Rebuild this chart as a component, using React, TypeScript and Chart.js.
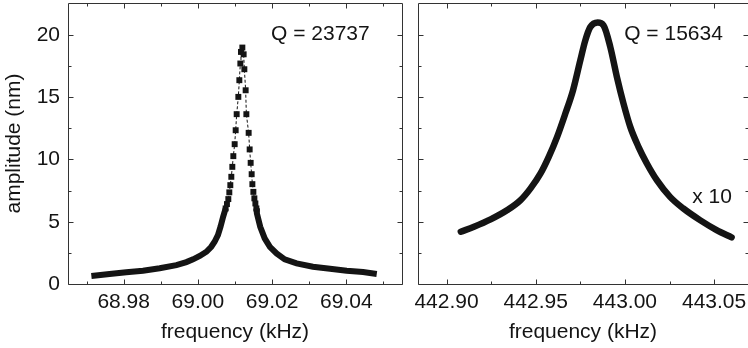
import React, { useEffect, useRef } from 'react';
import { Chart, registerables } from 'chart.js';

Chart.register(...registerables);

// ---- data ----
const leftFreq = [
  68.9713, 68.9762, 68.9807, 68.9852, 68.9897, 68.9942, 68.9969, 68.9987, 69.0005, 69.0023,
  69.0036, 69.0045, 69.0054, 69.0061, 69.0068,
  69.00748, 69.00783, 69.0082, 69.00847, 69.00874, 69.00901, 69.00928, 69.00955, 69.00991, 69.01018,
  69.01045, 69.0109, 69.01117, 69.01144, 69.01161, 69.01198,
  69.01233, 69.01252, 69.01287, 69.01306, 69.01368, 69.01395, 69.01422, 69.01449, 69.01468, 69.01495,
  69.01522, 69.01549, 69.01576,
  69.0159, 69.0168, 69.018, 69.0194, 69.0212, 69.0234, 69.0266, 69.031, 69.0356, 69.0401, 69.0445, 69.0482,
];
const leftAmp = [
  0.64, 0.8, 0.94, 1.07, 1.26, 1.52, 1.76, 1.98, 2.25, 2.59,
  2.99, 3.39, 3.93, 4.6, 5.4,
  6.07, 6.42, 6.82, 7.36, 7.94, 8.61, 9.41, 10.27, 11.23, 12.35,
  13.64, 15.03, 16.37, 17.71, 18.64, 18.99,
  18.45, 17.25, 15.56, 13.64, 12.14, 10.81, 9.73, 8.82, 8.02, 7.4,
  6.88, 6.47, 6.07,
  5.67, 4.6, 3.67, 2.99, 2.46, 1.98, 1.66, 1.39, 1.23, 1.07, 0.96, 0.8,
];

const rightFreq = [
  442.908, 442.9154, 442.9247, 442.9341, 442.9415, 442.9471, 442.9527, 442.9573, 442.962, 442.9666,
  442.9709, 442.975, 442.9778, 442.9806, 442.9847, 442.988, 442.9918, 442.9955, 442.9992, 443.003,
  443.0076, 443.0123, 443.0179, 443.0253, 443.0327, 443.0421, 443.0514, 443.0598,
];
const rightAmp = [
  4.2, 4.6, 5.19, 5.94, 6.74, 7.68, 8.88, 10.21, 11.82, 13.69,
  15.56, 17.97, 19.57, 20.64, 21.0, 20.78, 19.04, 16.63, 14.5, 12.62,
  11.02, 9.68, 8.34, 7.0, 6.07, 5.13, 4.33, 3.75,
];

const leftXRange = [68.965, 69.055];
const rightXRange = [442.884, 443.069];
const yRange = [0, 22.57];

const leftXMajor = [68.98, 69.0, 69.02, 69.04];
const leftXMinor = [68.97, 68.99, 69.01, 69.03, 69.05];
const rightXMajor = [442.9, 442.95, 443.0, 443.05];
const rightXMinor = [442.925, 442.975, 443.025];
const yMajor = [0, 5, 10, 15, 20];
const yMinor = [2.5, 7.5, 12.5, 17.5];

const leftNotes = [{ x: 69.0463, y: 20.1, text: 'Q = 23737' }];
const rightNotes = [
  { x: 443.0549, y: 20.1, text: 'Q = 15634' },
  { x: 443.06, y: 6.98, text: 'x 10' },
];

const INK = '#141414';
const FRAME = '#333333';
const FONT = "'Liberation Sans', Arial, Helvetica, sans-serif";
const MARK_LIMIT = 6;
const FONT_SIZE = 21;

function framePlugin(xMaj: number[], xMin: number[]) {
  return {
    id: 'frameTicks',
    afterDraw(chart: any) {
      const { ctx, chartArea } = chart;
      const { left, right, top, bottom } = chartArea;
      const xs = chart.scales.x;
      const ys = chart.scales.y;
      ctx.save();
      ctx.strokeStyle = FRAME;
      ctx.lineWidth = 1;
      const L = Math.round(left) + 0.5;
      const R = Math.round(right) + 0.5;
      const T = Math.round(top) + 0.5;
      const B = Math.round(bottom) + 0.5;
      ctx.beginPath();
      ctx.moveTo(L, T); ctx.lineTo(R, T); ctx.lineTo(R, B); ctx.lineTo(L, B); ctx.closePath();
      ctx.stroke();
      ctx.beginPath();
      const xt = (v: number, len: number) => {
        const p = Math.round(xs.getPixelForValue(v)) + 0.5;
        ctx.moveTo(p, B); ctx.lineTo(p, B - len);
        ctx.moveTo(p, T); ctx.lineTo(p, T + len);
      };
      const yt = (v: number, len: number) => {
        const p = Math.round(ys.getPixelForValue(v)) + 0.5;
        ctx.moveTo(L, p); ctx.lineTo(L + len, p);
        ctx.moveTo(R, p); ctx.lineTo(R - len, p);
      };
      xMaj.forEach((v) => xt(v, 5));
      xMin.forEach((v) => xt(v, 3));
      yMajor.forEach((v) => yt(v, 5));
      yMinor.forEach((v) => yt(v, 3));
      ctx.stroke();
      ctx.restore();
    },
  };
}

function notesPlugin(notes: { x: number; y: number; text: string }[]) {
  return {
    id: 'notes',
    afterDraw(chart: any) {
      const { ctx } = chart;
      ctx.save();
      ctx.fillStyle = INK;
      ctx.font = `${FONT_SIZE}px ${FONT}`;
      ctx.textAlign = 'right';
      ctx.textBaseline = 'middle';
      notes.forEach((n) => {
        ctx.fillText(n.text, chart.scales.x.getPixelForValue(n.x), chart.scales.y.getPixelForValue(n.y));
      });
      ctx.restore();
    },
  };
}

const font = { family: FONT, size: FONT_SIZE };

function xScale(range: number[], step: number) {
  return {
    type: 'linear' as const,
    min: range[0],
    max: range[1],
    grid: { display: false, drawTicks: false },
    border: { display: false },
    ticks: {
      stepSize: step,
      includeBounds: false,
      padding: 6,
      color: INK,
      font,
      maxRotation: 0,
      autoSkip: false,
      callback: (v: any) => Number(v).toFixed(2),
    },
    title: { display: true, text: 'frequency (kHz)', color: INK, font, padding: { top: 3, bottom: 3 } },
    afterFit: (s: any) => {
      s.height = 64;
      s.paddingLeft = 0;
      s.paddingRight = 0;
    },
  };
}

export default function App() {
  const leftRef = useRef<HTMLCanvasElement>(null);
  const rightRef = useRef<HTMLCanvasElement>(null);

  useEffect(() => {
    const leftChart = new Chart(leftRef.current as HTMLCanvasElement, {
      type: 'scatter',
      data: {
        datasets: [
          {
            data: leftFreq.map((x, i) => ({ x, y: leftAmp[i] })),
            showLine: true,
            borderColor: INK,
            backgroundColor: INK,
            borderWidth: 1,
            borderCapStyle: 'butt',
            pointStyle: 'rect',
            pointRadius: (c: any) => (c.raw && c.raw.y >= MARK_LIMIT ? 4.2 : 0),
            pointBorderWidth: 0,
            segment: {
              borderWidth: (c: any) => (Math.min(c.p0.parsed.y, c.p1.parsed.y) < MARK_LIMIT ? 6 : 1),
              borderDash: (c: any) => (Math.min(c.p0.parsed.y, c.p1.parsed.y) < MARK_LIMIT ? [] : [3, 2]),
            },
          } as any,
        ],
      },
      options: {
        animation: false,
        responsive: false,
        devicePixelRatio: 1,
        events: [],
        layout: { padding: { top: 3, right: 3, left: 0, bottom: 0 } },
        plugins: { legend: { display: false }, tooltip: { enabled: false } },
        scales: {
          x: xScale(leftXRange, 0.02),
          y: {
            type: 'linear',
            min: yRange[0],
            max: yRange[1],
            grid: { display: false, drawTicks: false },
            border: { display: false },
            ticks: {
              stepSize: 5,
              includeBounds: false,
              padding: 8,
              color: INK,
              font,
              callback: (v: any) => String(v),
            },
            title: { display: true, text: 'amplitude (nm)', color: INK, font, padding: { top: 2, bottom: 2 } },
            afterFit: (s: any) => {
              s.width = 68;
              s.paddingTop = 0;
              s.paddingBottom = 0;
            },
          } as any,
        },
      },
      plugins: [framePlugin(leftXMajor, leftXMinor), notesPlugin(leftNotes)],
    } as any);

    const rightChart = new Chart(rightRef.current as HTMLCanvasElement, {
      type: 'scatter',
      data: {
        datasets: [
          {
            data: rightFreq.map((x, i) => ({ x, y: rightAmp[i] })),
            showLine: true,
            borderColor: INK,
            backgroundColor: INK,
            borderWidth: 6.5,
            borderCapStyle: 'round',
            borderJoinStyle: 'round',
            cubicInterpolationMode: 'monotone',
            pointRadius: 0,
          } as any,
        ],
      },
      options: {
        animation: false,
        responsive: false,
        devicePixelRatio: 1,
        events: [],
        layout: { padding: { top: 3, right: 0, left: 13, bottom: 0 } },
        plugins: { legend: { display: false }, tooltip: { enabled: false } },
        scales: {
          x: xScale(rightXRange, 0.05),
          y: { type: 'linear', display: false, min: yRange[0], max: yRange[1] },
        },
      },
      plugins: [framePlugin(rightXMajor, rightXMinor), notesPlugin(rightNotes)],
    } as any);

    return () => {
      leftChart.destroy();
      rightChart.destroy();
    };
  }, []);

  return (
    <div style={{ position: 'fixed', left: 0, top: 0, width: 748, height: 348, background: '#fff' }}>
      <canvas
        ref={leftRef}
        width={405}
        height={348}
        style={{ position: 'absolute', left: 0, top: 0, width: 405, height: 348 }}
      />
      <canvas
        ref={rightRef}
        width={343}
        height={348}
        style={{ position: 'absolute', left: 405, top: 0, width: 343, height: 348 }}
      />
    </div>
  );
}
